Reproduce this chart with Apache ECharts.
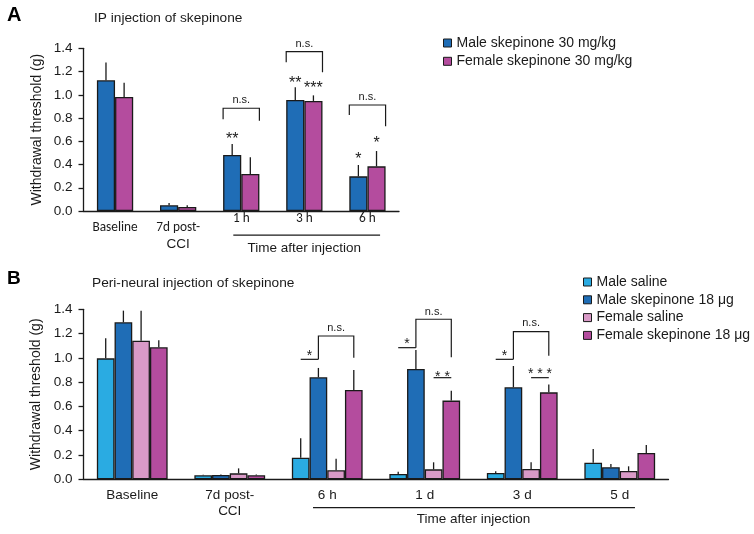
<!DOCTYPE html>
<html>
<head>
<meta charset="utf-8">
<script src="https://cdn.jsdelivr.net/npm/echarts@6/dist/echarts.min.js"></script>
<style>html,body{margin:0;padding:0;background:#fff;}#c{width:754px;height:534px;}</style>
</head>
<body>
<div id="c"></div>
<script>
// ---------- Panel A data ----------
const catsA = ['Baseline', '7d post-\nCCI', '1 h', '3 h', '6 h'];
const nameMaleA = 'Male skepinone 30 mg/kg';
const nameFemaleA = 'Female skepinone 30 mg/kg';
const maleA = [1.125, 0.049, 0.482, 0.955, 0.298];
const maleAErr = [1.277, 0.069, 0.577, 1.064, 0.396];
const femaleA = [0.981, 0.034, 0.318, 0.947, 0.384];
const femaleAErr = [1.104, 0.049, 0.462, 0.995, 0.516];

// ---------- Panel B data ----------
const catsB = ['Baseline', '7d post-\nCCI', '6 h', '1 d', '3 d', '5 d'];
const namesB = ['Male saline', 'Male skepinone 18 \u03bcg', 'Female saline', 'Female skepinone 18 \u03bcg'];
const maleSal = [0.996, 0.033, 0.178, 0.044, 0.052, 0.137];
const maleSalErr = [1.161, 0.038, 0.338, 0.063, 0.066, 0.250];
const maleSkep = [1.293, 0.036, 0.840, 0.909, 0.758, 0.099];
const maleSkepErr = [1.389, 0.040, 0.917, 1.065, 0.933, 0.126];
const femSal = [1.142, 0.049, 0.074, 0.082, 0.085, 0.069];
const femSalErr = [1.389, 0.090, 0.170, 0.140, 0.140, 0.107];
const femSkep = [1.087, 0.033, 0.736, 0.648, 0.716, 0.217];
const femSkepErr = [1.145, 0.040, 0.900, 0.730, 0.780, 0.283];

// y-axis ticks
const yMin = 0, yMax = 1.4, yStep = 0.2;

// significance annotations (category index, bar index, value levels)
const annA = [
  {type: 'bracket', cat: 2, s1: 0, f1: 0, s2: 1, f2: 1, top: 0.884, yl: 0.789, yr: 0.777, text: 'n.s.', ty: 0.955},
  {type: 'bracket', cat: 3, s1: 0, f1: 0, s2: 1, f2: 1, top: 1.371, yl: 1.279, yr: 1.193, text: 'n.s.', ty: 1.44},
  {type: 'bracket', cat: 4, s1: 0, f1: 0, s2: 1, f2: 1, top: 0.912, yl: 0.826, yr: 0.730, text: 'n.s.', ty: 0.98},
  {type: 'star', cat: 2, s: 0, y: 0.64, text: '**'},
  {type: 'star', cat: 3, s: 0, y: 1.119, text: '**'},
  {type: 'star', cat: 3, s: 1, y: 1.076, text: '***'},
  {type: 'star', cat: 4, s: 0, y: 0.47, text: '*'},
  {type: 'star', cat: 4, s: 1, y: 0.605, text: '*'},
  {type: 'under', c1: 2, f1: -0.126, c2: 4, f2: 0.2, y: -0.207, text: 'Time after injection', tc: 3, tf: 0, ty: -0.318}
];
const annB = [
  {type: 'sig', cat: 2, s1: 0, s2: 1, y: 0.988, text: '*', ty: 1.043},
  {type: 'bracket', cat: 2, s1: 1, f1: 0.5, s2: 3, f2: 0.5, top: 1.18, yl: 0.988, yr: 1.0, text: 'n.s.', ty: 1.243},
  {type: 'sig', cat: 3, s1: 0, s2: 1, y: 1.084, text: '*', ty: 1.14},
  {type: 'bracket', cat: 3, s1: 1, f1: 0.5, s2: 3, f2: 0.5, top: 1.318, yl: 1.084, yr: 1.005, text: 'n.s.', ty: 1.38},
  {type: 'sig', cat: 3, s1: 2, s2: 3, y: 0.837, text: '* *', ty: 0.865},
  {type: 'sig', cat: 4, s1: 0, s2: 1, y: 0.988, text: '*', ty: 1.04},
  {type: 'bracket', cat: 4, s1: 1, f1: 0.5, s2: 3, f2: 0.5, top: 1.216, yl: 0.988, yr: 1.018, text: 'n.s.', ty: 1.285},
  {type: 'sig', cat: 4, s1: 2, s2: 3, y: 0.837, text: '* * *', ty: 0.89},
  {type: 'under', c1: 2, f1: -0.146, c2: 5, f2: 0.156, y: -0.234, text: 'Time after injection', tc: 3, tf: 0.5, ty: -0.327}
];

// ---------- styling ----------
const ARIAL = 'Arial, "Liberation Sans", sans-serif';
const CALIBRI = 'Carlito, Lato, sans-serif';
const INK = '#1a1a1a';
const colMaleSkep = '#1f6db6';
const colFemSkep = '#b44c9e';
const colMaleSal = '#2aabe2';
const colFemSal = '#d99ac7';
const gapA = 0.425, gapB = 0.274;

function barX(api, cat, s, n, gap, f) {
  const bw = api.size([1, 0])[0];
  const g = bw * (1 - gap);
  const w = g / n;
  return api.coord([cat, 0])[0] - g / 2 + w * (s + f);
}
function yPx(api, v) { return api.coord([0, v])[1]; }

function errSeries(name, xi, vals, errs, s, n, gap) {
  return {
    type: 'custom', name: name + ' err', xAxisIndex: xi, yAxisIndex: xi, z: 4, clip: false,
    data: vals.map((v, i) => [i, errs[i], v]),
    encode: {x: 0, y: 1},
    renderItem: function (params, api) {
      const cat = api.value(0);
      const x = barX(api, cat, s, n, gap, 0.5);
      const y1 = yPx(api, api.value(2)), y2 = yPx(api, api.value(1));
      return {type: 'line', shape: {x1: x, y1: y1, x2: x, y2: y2},
        style: {stroke: INK, lineWidth: 1.3}};
    }
  };
}

function annSeries(xi, ann, n, gap) {
  return {
    type: 'custom', xAxisIndex: xi, yAxisIndex: xi, z: 5, clip: false, silent: true,
    data: ann.map(a => [a.cat !== undefined ? a.cat : a.c1, 0]),
    encode: {x: 0, y: 1},
    renderItem: function (params, api) {
      const a = ann[params.dataIndex];
      const ch = [];
      const ls = {stroke: INK, lineWidth: 1.2, fill: null};
      const txt = (x, y, t, font, dy) => ({type: 'text', x: x, y: y + (dy || 0),
        style: {text: t, font: font, fill: INK, textAlign: 'center', textVerticalAlign: 'middle', align: 'center', verticalAlign: 'middle'}});
      if (a.type === 'bracket') {
        const xl = barX(api, a.cat, a.s1, n, gap, a.f1);
        const xr = barX(api, a.cat, a.s2, n, gap, a.f2);
        const yt = yPx(api, a.top);
        ch.push({type: 'polyline', shape: {points: [[xl, yPx(api, a.yl)], [xl, yt], [xr, yt], [xr, yPx(api, a.yr)]]}, style: ls});
        ch.push(txt((xl + xr) / 2, yPx(api, a.ty), a.text, '11px ' + ARIAL, 0));
      } else if (a.type === 'star') {
        const x = barX(api, a.cat, a.s, n, gap, 0.5);
        ch.push(txt(x, yPx(api, a.y), a.text, '16px ' + ARIAL, 3));
      } else if (a.type === 'sig') {
        const x1 = barX(api, a.cat, a.s1, n, gap, 0.5);
        const x2 = barX(api, a.cat, a.s2, n, gap, 0.5);
        const y = yPx(api, a.y);
        ch.push({type: 'line', shape: {x1: x1, y1: y, x2: x2, y2: y}, style: ls});
        ch.push(txt((x1 + x2) / 2, yPx(api, a.ty), a.text, '14px ' + ARIAL, 3));
      } else if (a.type === 'under') {
        const bw = api.size([1, 0])[0];
        const x1 = api.coord([a.c1, 0])[0] + a.f1 * bw;
        const x2 = api.coord([a.c2, 0])[0] + a.f2 * bw;
        const y = yPx(api, a.y);
        ch.push({type: 'line', shape: {x1: x1, y1: y, x2: x2, y2: y}, style: ls});
        const tx = api.coord([a.tc, 0])[0] + a.tf * bw;
        ch.push(txt(tx, yPx(api, a.ty), a.text, '13.5px ' + ARIAL, 0));
      }
      return {type: 'group', children: ch};
    }
  };
}

function barSeries(name, xi, data, color, gap) {
  return {
    type: 'bar', name: name, xAxisIndex: xi, yAxisIndex: xi, data: data,
    barGap: '0%', barCategoryGap: (gap * 100) + '%',
    itemStyle: {color: color, borderColor: INK, borderWidth: 1.3},
    emphasis: {disabled: true}, z: 3
  };
}

const yAxisCommon = {
  type: 'value', min: yMin, max: yMax, interval: yStep,
  name: 'Withdrawal threshold (g)', nameLocation: 'middle', nameGap: 39.5,
  nameTextStyle: {fontFamily: ARIAL, fontSize: 14, color: INK},
  axisLine: {show: true, lineStyle: {color: INK, width: 1.3}},
  axisTick: {show: true, length: 5, lineStyle: {color: INK, width: 1.3}},
  axisLabel: {fontFamily: ARIAL, fontSize: 13.5, color: INK, margin: 11, formatter: v => v.toFixed(1)},
  splitLine: {show: false}
};

const xAxisA = {
  type: 'category', gridIndex: 0, data: catsA,
  axisLine: {lineStyle: {color: INK, width: 1.3}},
  axisTick: {length: 4, lineStyle: {color: INK, width: 1.3}},
  axisLabel: {
    interval: 0, margin: 1, color: INK,
    formatter: function (v, i) {
      if (i < 2) {
        const parts = v.split('\n');
        let s = '{s| }\n{a|' + parts[0] + '}';
        if (parts[1]) s += '\n{c|' + parts[1] + '}';
        return s;
      }
      return '{b|' + v + '}';
    },
    rich: {
      s: {fontSize: 1, lineHeight: 9},
      a: {fontFamily: CALIBRI, fontSize: 13.3, lineHeight: 14, color: INK},
      b: {fontFamily: CALIBRI, fontSize: 13.3, lineHeight: 14, color: INK},
      c: {fontFamily: ARIAL, fontSize: 13.5, lineHeight: 18, color: INK}
    }
  }
};
const xAxisB = {
  type: 'category', gridIndex: 1, data: catsB,
  axisLine: {lineStyle: {color: INK, width: 1.3}},
  axisTick: {length: 4, lineStyle: {color: INK, width: 1.3}},
  axisLabel: {interval: 0, margin: 8, color: INK, fontFamily: ARIAL, fontSize: 13.5, lineHeight: 16}
};

const option = {
  backgroundColor: '#fff',
  animation: false,
  title: [
    {text: 'A', left: 7, top: 5, padding: 0, textStyle: {fontFamily: ARIAL, fontWeight: 'bold', fontSize: 20, color: '#000'}},
    {text: 'IP injection of skepinone', left: 94, top: 11, padding: 0, textStyle: {fontFamily: ARIAL, fontWeight: 'normal', fontSize: 13.7, color: INK}},
    {text: 'B', left: 7, top: 269, padding: 0, textStyle: {fontFamily: ARIAL, fontWeight: 'bold', fontSize: 19, color: '#000'}},
    {text: 'Peri-neural injection of skepinone', left: 92, top: 276, padding: 0, textStyle: {fontFamily: ARIAL, fontWeight: 'normal', fontSize: 13.7, color: INK}}
  ],
  legend: [
    {data: [nameMaleA, nameFemaleA], orient: 'vertical', left: 443, top: 36, padding: 0, itemGap: 4.3,
      itemWidth: 8, itemHeight: 8, icon: 'rect', selectedMode: false,
      itemStyle: {borderColor: INK, borderWidth: 1},
      textStyle: {fontFamily: ARIAL, fontSize: 14, color: INK}},
    {data: namesB, orient: 'vertical', left: 583, top: 275, padding: 0, itemGap: 3.8,
      itemWidth: 8, itemHeight: 8, icon: 'rect', selectedMode: false,
      itemStyle: {borderColor: INK, borderWidth: 1},
      textStyle: {fontFamily: ARIAL, fontSize: 14, color: INK}}
  ],
  grid: [
    {left: 83.5, top: 48.3, width: 315.5, height: 162.7},
    {left: 83.5, top: 309.3, width: 585, height: 170}
  ],
  xAxis: [xAxisA, xAxisB],
  yAxis: [Object.assign({gridIndex: 0}, yAxisCommon), Object.assign({gridIndex: 1}, yAxisCommon)],
  series: [
    barSeries(nameMaleA, 0, maleA, colMaleSkep, gapA),
    barSeries(nameFemaleA, 0, femaleA, colFemSkep, gapA),
    errSeries(nameMaleA, 0, maleA, maleAErr, 0, 2, gapA),
    errSeries(nameFemaleA, 0, femaleA, femaleAErr, 1, 2, gapA),
    annSeries(0, annA, 2, gapA),
    barSeries(namesB[0], 1, maleSal, colMaleSal, gapB),
    barSeries(namesB[1], 1, maleSkep, colMaleSkep, gapB),
    barSeries(namesB[2], 1, femSal, colFemSal, gapB),
    barSeries(namesB[3], 1, femSkep, colFemSkep, gapB),
    errSeries(namesB[0], 1, maleSal, maleSalErr, 0, 4, gapB),
    errSeries(namesB[1], 1, maleSkep, maleSkepErr, 1, 4, gapB),
    errSeries(namesB[2], 1, femSal, femSalErr, 2, 4, gapB),
    errSeries(namesB[3], 1, femSkep, femSkepErr, 3, 4, gapB),
    annSeries(1, annB, 4, gapB)
  ]
};

const chart = echarts.init(document.getElementById('c'), null, {renderer: 'canvas'});
chart.setOption(option);
</script>
</body>
</html>
